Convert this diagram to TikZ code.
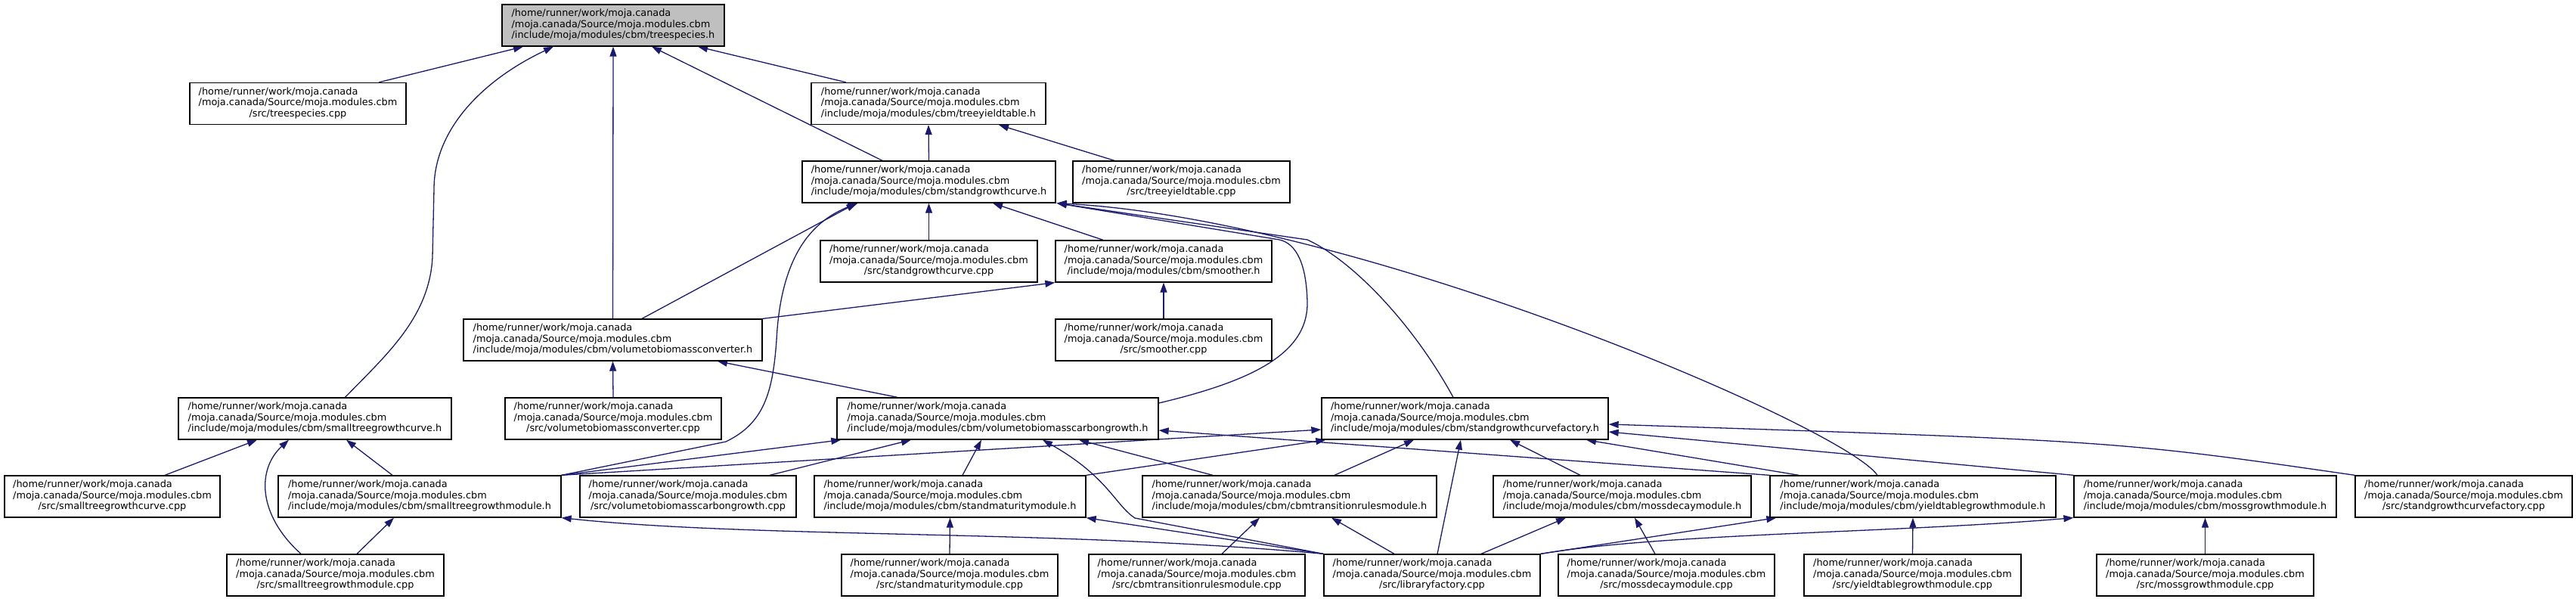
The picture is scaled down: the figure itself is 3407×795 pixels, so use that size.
\documentclass[tikz,border=0pt]{standalone}
\usepackage{fontspec}
\setmainfont{DejaVu Sans}
\usetikzlibrary{arrows.meta}
\definecolor{edgeblue}{HTML}{191970}
\definecolor{rootgray}{HTML}{BFBFBF}
\pgfdeclarelayer{background}
\pgfsetlayers{background,main}
\newcommand{\lhome}{/home/runner/work/moja.canada}
\newcommand{\lsrc}{/moja.canada/Source/moja.modules.cbm}
\newcommand{\lbl}[1]{\begin{tabular}{@{}l@{}}\lhome\\\lsrc\\\multicolumn{1}{@{}c@{}}{#1}\end{tabular}}
\newcommand{\lblh}[1]{\lbl{/include/moja/modules/cbm/#1}}
\newcommand{\lblc}[1]{\lbl{/src/#1}}
\tikzset{
  box/.style={draw=black, line width=1.3pt, fill=white, inner sep=0pt, minimum height=55pt,
    font=\fontsize{12.85pt}{14.5pt}\selectfont},
  dep/.style={draw=edgeblue, line width=1.3pt, -{Triangle[length=13pt,width=9pt]}}
}
\begin{document}
\begin{tikzpicture}[x=1pt,y=-1pt]
\useasboundingbox (0,0) rectangle (3407,795);
% row 1
\node[box,fill=rootgray,minimum width=294pt] (ts) at (811,33.5) {\lblh{treespecies.h}};
% row 2
\node[box,minimum width=286pt] (tscpp) at (394,137) {\lblc{treespecies.cpp}};
\node[box,minimum width=310pt] (tyt) at (1228,137) {\lblh{treeyieldtable.h}};
% row 3
\node[box,minimum width=335pt] (sgc) at (1228.5,240.5) {\lblh{standgrowthcurve.h}};
\node[box,minimum width=287pt] (tytcpp) at (1562.5,240.5) {\lblc{treeyieldtable.cpp}};
% row 4
\node[box,minimum width=287pt] (sgccpp) at (1228.5,345.5) {\lblc{standgrowthcurve.cpp}};
\node[box,minimum width=286pt] (smh) at (1539,345.5) {\lblh{smoother.h}};
% row 5
\node[box,minimum width=395pt] (vtbc) at (810.5,449.5) {\lblh{volumetobiomassconverter.h}};
\node[box,minimum width=286pt] (smcpp) at (1539,449.5) {\lblc{smoother.cpp}};
% row 6
\node[box,minimum width=361pt] (stgc) at (416.5,553.5) {\lblh{smalltreegrowthcurve.h}};
\node[box,minimum width=286pt] (vtbccpp) at (811,553.5) {\lblc{volumetobiomassconverter.cpp}};
\node[box,minimum width=425pt] (vtbcg) at (1319.5,553.5) {\lblh{volumetobiomasscarbongrowth.h}};
\node[box,minimum width=379pt] (sgcf) at (1937.5,553.5) {\lblh{standgrowthcurvefactory.h}};
% row 7
\node[box,minimum width=285pt] (stgccpp) at (148.5,656.5) {\lblc{smalltreegrowthcurve.cpp}};
\node[box,minimum width=374pt] (stgm) at (555,656.5) {\lblh{smalltreegrowthmodule.h}};
\node[box,minimum width=286pt] (vtbcgcpp) at (910,656.5) {\lblc{volumetobiomasscarbongrowth.cpp}};
\node[box,minimum width=359pt] (smm) at (1256.5,656.5) {\lblh{standmaturitymodule.h}};
\node[box,minimum width=389pt] (ctrm) at (1705.5,656.5) {\lblh{cbmtransitionrulesmodule.h}};
\node[box,minimum width=341pt] (mdm) at (2145.5,656.5) {\lblh{mossdecaymodule.h}};
\node[box,minimum width=378pt] (ytgm) at (2530,656.5) {\lblh{yieldtablegrowthmodule.h}};
\node[box,minimum width=347pt] (mgm) at (2916.5,656.5) {\lblh{mossgrowthmodule.h}};
\node[box,minimum width=287pt] (sgcfcpp) at (3258.5,656.5) {\lblc{standgrowthcurvefactory.cpp}};
% row 8
\node[box,minimum width=287pt] (stgmcpp) at (443.5,760.5) {\lblc{smalltreegrowthmodule.cpp}};
\node[box,minimum width=286pt] (smmcpp) at (1256,760.5) {\lblc{standmaturitymodule.cpp}};
\node[box,minimum width=286pt] (ctrmcpp) at (1583,760.5) {\lblc{cbmtransitionrulesmodule.cpp}};
\node[box,minimum width=286pt] (lf) at (1894,760.5) {\lblc{libraryfactory.cpp}};
\node[box,minimum width=286pt] (mdmcpp) at (2204,760.5) {\lblc{mossdecaymodule.cpp}};
\node[box,minimum width=287pt] (ytgmcpp) at (2529.5,760.5) {\lblc{yieldtablegrowthmodule.cpp}};
\node[box,minimum width=287pt] (mgmcpp) at (2916.5,760.5) {\lblc{mossgrowthmodule.cpp}};

\begin{pgfonlayer}{background}
% into treespecies.h
\draw[dep] ([xshift=107pt]tscpp.north) -- ([xshift=-119pt]ts.south);
\draw[dep] ([xshift=40pt]stgc.north) .. controls (510,470) and (568,420) .. (572,340) -- (574,250) .. controls (574,170) and (640,105) .. ([xshift=-79pt]ts.south);
\draw[dep] (vtbc.north) -- (ts.south);
\draw[dep] ([xshift=-61.5pt]sgc.north) -- ([xshift=51pt]ts.south);
\draw[dep] ([xshift=-109pt]tyt.north) -- ([xshift=112pt]ts.south);
% into treeyieldtable.h
\draw[dep] (sgc.north) -- (tyt.south);
\draw[dep] ([xshift=-88.5pt]tytcpp.north) -- ([xshift=93pt]tyt.south);
% into standgrowthcurve.h
\draw[dep] ([xshift=38.5pt]vtbc.north) -- ([xshift=-96pt]sgc.south);
\draw[dep] (stgm.north east) -- (960,584) .. controls (1010,560) and (1022,520) .. (1027,450) .. controls (1033,330) and (1080,290) .. ([xshift=-94pt]sgc.south);
\draw[dep] (sgccpp.north) -- (sgc.south);
\draw[dep] ([xshift=-80pt]smh.north) -- ([xshift=84.5pt]sgc.south);
\draw[dep] ([yshift=20.5pt]vtbcg.east) .. controls (1650,505) and (1730,470) .. (1729,400) .. controls (1728,350) and (1715,322) .. (1692,317) -- ([xshift=1pt]sgc.south east);
\draw[dep] ([xshift=-15.5pt]sgcf.north) .. controls (1870,430) and (1790,345) .. (1729,317) -- ([xshift=1pt]sgc.south east);
\draw[dep] ([xshift=-47pt]ytgm.north) .. controls (2440,565) and (1800,290) .. ([xshift=1pt]sgc.south east);
% into smoother.h
\draw[dep] (vtbc.north east) -- (smh.south west);
\draw[dep] (smcpp.north) -- (smh.south);
% into volumetobiomassconverter.h
\draw[dep] (vtbccpp.north) -- (vtbc.south);
\draw[dep] ([xshift=-132.5pt]vtbcg.north) -- ([xshift=138.5pt]vtbc.south);
% into smalltreegrowthcurve.h
\draw[dep] ([xshift=69.5pt]stgccpp.north) -- ([xshift=-76.5pt]stgc.south);
\draw[dep] ([xshift=-45.5pt]stgmcpp.north) .. controls (340,680) and (340,620) .. ([xshift=-34.5pt]stgc.south);
\draw[dep] ([xshift=-36pt]stgm.north) -- ([xshift=41.5pt]stgc.south);
% into smalltreegrowthmodule.h
\draw[dep] ([xshift=28.5pt]stgmcpp.north) -- ([xshift=-34pt]stgm.south);
\draw[dep] (lf.north west) .. controls (1400,700) and (1000,712) .. (stgm.south east);
% into volumetobiomasscarbongrowth.h
\draw[dep] (stgm.north east) -- ([xshift=6pt]vtbcg.south west);
\draw[dep] ([xshift=108pt]vtbcgcpp.north) -- ([xshift=-114.5pt]vtbcg.south);
\draw[dep] ([xshift=16.5pt]smm.north) -- ([xshift=-21.5pt]vtbcg.south);
\draw[dep] (lf.north west) -- (1501,685) .. controls (1475,668) and (1465,630) .. ([xshift=59.5pt]vtbcg.south);
\draw[dep] ([xshift=-101.5pt]ctrm.north) -- ([xshift=107.5pt]vtbcg.south);
\draw[dep] (ytgm.north west) -- ([yshift=-15.5pt]vtbcg.east);
% into standgrowthcurvefactory.h
\draw[dep] (stgm.north east) -- ([yshift=-14.5pt]sgcf.west);
\draw[dep] (smm.north east) -- ([xshift=6pt]sgcf.south west);
\draw[dep] ([xshift=59.5pt]ctrm.north) -- ([xshift=-67.5pt]sgcf.south);
\draw[dep] ([xshift=7pt]lf.north) -- ([xshift=-5.5pt]sgcf.south);
\draw[dep] ([xshift=-55.5pt]mdm.north) -- ([xshift=59.5pt]sgcf.south);
\draw[dep] ([xshift=-151pt]ytgm.north) -- ([xshift=160.5pt]sgcf.south);
\draw[dep] (sgcfcpp.north west) .. controls (2800,583) .. ([yshift=-7.5pt]sgcf.east);
\draw[dep] (mgm.north west) -- ([yshift=-17.5pt]sgcf.east);
% from libraryfactory.cpp
\draw[dep] (lf.north west) -- (smm.south east);
\draw[dep] ([xshift=-50pt]lf.north) -- ([xshift=55.5pt]ctrm.south);
\draw[dep] ([xshift=65pt]lf.north) -- ([xshift=-74.5pt]mdm.south);
\draw[dep] (lf.north east) -- ([xshift=9pt]ytgm.south west);
\draw[dep] (lf.north east) .. controls (2200,705) and (2500,705) .. (mgm.south west);
% sources into headers
\draw[dep] (smmcpp.north) -- (smm.south);
\draw[dep] ([xshift=33pt]ctrmcpp.north) -- ([xshift=-39.5pt]ctrm.south);
\draw[dep] ([xshift=-15pt]mdmcpp.north) -- ([xshift=16.5pt]mdm.south);
\draw[dep] (ytgmcpp.north) -- (ytgm.south);
\draw[dep] (mgmcpp.north) -- (mgm.south);
\end{pgfonlayer}
\end{tikzpicture}
\end{document}
